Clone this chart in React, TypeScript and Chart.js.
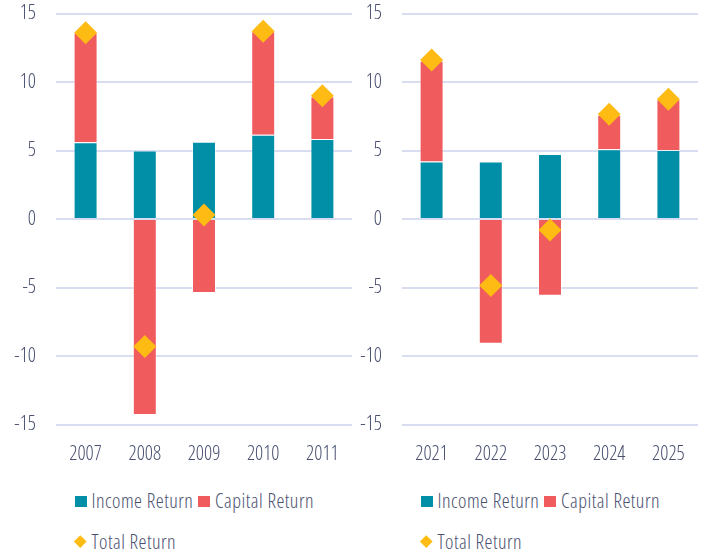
import React, { useEffect, useRef } from "react";
import { Chart, registerables } from "chart.js";

Chart.register(...registerables);

const leftYears = ["2007", "2008", "2009", "2010", "2011"];
const leftIncome = [5.6, 5.0, 5.65, 6.15, 5.85];
const leftCapital = [8.0, -14.3, -5.4, 7.55, 3.1];
const leftTotal = [13.6, -9.3, 0.3, 13.7, 9.0];

const rightYears = ["2021", "2022", "2023", "2024", "2025"];
const rightIncome = [4.2, 4.2, 4.75, 5.1, 5.05];
const rightCapital = [7.35, -9.1, -5.6, 2.5, 3.7];
const rightTotal = [11.6, -4.85, -0.8, 7.65, 8.75];

const seriesNames = ["Income Return", "Capital Return", "Total Return"];
const yMin = -15;
const yMax = 15;
const yStep = 5;

const TEAL = "#008fa7";
const RED = "#f05c5d";
const GOLD = "#febb13";
const TEXT = "#4a5070";
const GRID = "#d9ddf2";
const FAMILY = "'Open Sans', 'Noto Sans', sans-serif";
const FONT_SIZE = 20;
const chartFont = { family: FAMILY, size: FONT_SIZE, weight: "condensed 300" as any };

const CW = 356;
const CH = 470;

function Panel({ left, years, income, capital, total }: any) {
  const ref = useRef<HTMLCanvasElement>(null);
  useEffect(() => {
    if (!ref.current) return;
    const chart = new Chart(ref.current, {
      type: "bar",
      data: {
        labels: years,
        datasets: [
          {
            type: "line",
            label: seriesNames[2],
            data: total,
            stack: "total",
            showLine: false,
            pointStyle: "rectRot",
            pointRadius: 11.5,
            pointHoverRadius: 11.5,
            pointBackgroundColor: GOLD,
            pointBorderColor: GOLD,
            pointBorderWidth: 0,
            backgroundColor: GOLD,
            borderColor: GOLD,
          } as any,
          {
            type: "bar",
            label: seriesNames[0],
            data: income,
            stack: "bars",
            backgroundColor: TEAL,
            borderColor: "rgba(255,255,255,0.45)",
            borderWidth: 1,
            categoryPercentage: 0.8,
            barPercentage: 0.506,
          },
          {
            type: "bar",
            label: seriesNames[1],
            data: capital,
            stack: "bars",
            backgroundColor: RED,
            borderColor: "rgba(255,255,255,0.45)",
            borderWidth: 1,
            categoryPercentage: 0.8,
            barPercentage: 0.506,
          },
        ],
      },
      options: {
        responsive: false,
        maintainAspectRatio: false,
        animation: false,
        devicePixelRatio: 1,
        layout: { autoPadding: false, padding: { top: 13.5, right: 4, left: 0, bottom: 0 } },
        plugins: {
          legend: { display: false },
          tooltip: { enabled: false },
          title: { display: false },
        },
        scales: {
          x: {
            stacked: true,
            grid: {
              display: true,
              drawOnChartArea: false,
              color: "rgba(0,0,0,0)",
              tickColor: "rgba(0,0,0,0)",
              tickLength: 18,
            },
            border: { display: false },
            ticks: {
              color: TEXT,
              font: chartFont,
              padding: 0,
              maxRotation: 0,
            },
            afterFit: (s: any) => {
              s.height = CH - 424.7;
            },
          },
          y: {
            stacked: true,
            min: yMin,
            max: yMax,
            grid: {
              color: GRID,
              lineWidth: 2,
              drawTicks: true,
              tickLength: 20,
              tickColor: "rgba(0,0,0,0)",
            },
            border: { display: false },
            ticks: {
              stepSize: yStep,
              color: TEXT,
              font: chartFont,
              padding: 0,
              callback: (v: any) => String(v),
            },
            afterFit: (s: any) => {
              s.width = 56;
            },
          },
        },
      },
    });
    return () => chart.destroy();
  }, []);

  const textStyle: React.CSSProperties = {
    fontFamily: FAMILY,
    fontSize: FONT_SIZE,
    fontWeight: 300,
    fontStretch: "condensed",
    letterSpacing: "0.5px",
    color: TEXT,
    whiteSpace: "nowrap",
    lineHeight: "24px",
  };
  const item = (x: number, cy: number, marker: React.ReactNode, label: string) => (
    <div
      style={{
        position: "absolute",
        left: left + x,
        top: cy - 12,
        height: 24,
        display: "flex",
        alignItems: "center",
      }}
    >
      {marker}
      <span style={textStyle}>{label}</span>
    </div>
  );
  const square = (c: string) => (
    <div style={{ width: 12, height: 11, background: c, marginRight: 5 }} />
  );
  const diamond = (
    <div style={{ width: 12, height: 12, display: "flex", alignItems: "center", justifyContent: "center", marginRight: 5 }}>
      <div style={{ width: 8.5, height: 8.5, background: GOLD, transform: "rotate(45deg)" }} />
    </div>
  );

  return (
    <>
      <canvas
        ref={ref}
        width={CW}
        height={CH}
        style={{ position: "absolute", left, top: 0, width: CW, height: CH }}
      />
      {item(74.5, 501, square(TEAL), seriesNames[0])}
      {item(198, 501, square(RED), seriesNames[1])}
      {item(74.5, 541.5, diamond, seriesNames[2])}
    </>
  );
}

export default function App() {
  return (
    <div style={{ position: "absolute", left: 0, top: 0, width: 712, height: 553, background: "#fff" }}>
      <Panel left={0} years={leftYears} income={leftIncome} capital={leftCapital} total={leftTotal} />
      <Panel left={346} years={rightYears} income={rightIncome} capital={rightCapital} total={rightTotal} />
    </div>
  );
}
